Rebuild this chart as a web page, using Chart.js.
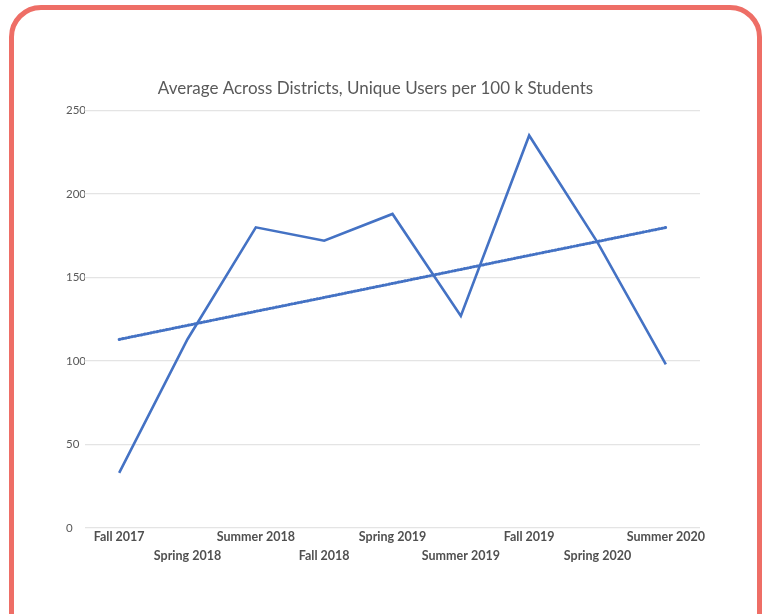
<!DOCTYPE html>
<html>
<head>
<meta charset="utf-8">
<script src="https://cdn.jsdelivr.net/npm/chart.js@4"></script>
<style>
  html, body { margin: 0; padding: 0; background: #ffffff; width: 765px; height: 614px; overflow: hidden; }
  #card { position: absolute; left: 9px; top: 5px; width: 753px; height: 700px; border: 5px solid #EE6E66; border-radius: 32px; box-sizing: border-box; }
  #wrap { position: absolute; left: 0; top: 0; width: 765px; height: 614px; }
</style>
</head>
<body>
<div id="card"></div>
<div id="wrap"><canvas id="c" width="765" height="614"></canvas></div>
<script>
const categories = ['Fall 2017', 'Spring 2018', 'Summer 2018', 'Fall 2018', 'Spring 2019', 'Summer 2019', 'Fall 2019', 'Spring 2020', 'Summer 2020'];
const uniqueUsers = [33, 113, 180, 172, 188, 127, 235, 171, 98];
const trendValues = [112.9, 121.3, 129.7, 138.0, 146.4, 154.8, 163.2, 171.5, 179.9];
const yTicks = [0, 50, 100, 150, 200, 250];
const titleText = 'Average Across Districts, Unique Users per 100 k Students';

const FONT = "Lato, 'Noto Sans', sans-serif";

const shiftTitle = {
  id: 'shiftTitle',
  afterLayout(chart) {
    if (chart.titleBlock) { chart.titleBlock.left -= 15; }
  }
};

new Chart(document.getElementById('c'), {
  type: 'line',
  data: {
    labels: categories,
    datasets: [
      {
        label: 'Unique Users',
        data: uniqueUsers,
        borderColor: '#4472C4',
        borderWidth: 2.6,
        pointRadius: 0,
        tension: 0,
        fill: false
      },
      {
        label: 'Trend',
        data: trendValues,
        borderColor: '#4472C4',
        borderWidth: 3,
        borderDash: [1, 2.2],
        borderCapStyle: 'round',
        pointRadius: 0,
        tension: 0,
        fill: false
      }
    ]
  },
  plugins: [shiftTitle],
  options: {
    responsive: false,
    animation: false,
    devicePixelRatio: 1,
    layout: { padding: { left: 66, right: 65, top: 0, bottom: 30 } },
    plugins: {
      legend: { display: false },
      tooltip: { enabled: false },
      title: {
        display: true,
        text: titleText,
        color: '#595959',
        font: { family: FONT, size: 17, weight: 'normal', lineHeight: 1.2 },
        padding: { top: 78, bottom: 12 }
      }
    },
    scales: {
      x: {
        offset: true,
        grid: { display: false, drawTicks: false },
        border: { display: false },
        ticks: {
          autoSkip: false,
          maxRotation: 0,
          minRotation: 0,
          padding: 0,
          color: '#505050',
          font: { family: FONT, size: 12.5, weight: 'bold', lineHeight: 1.5 },
          callback: function (value, index) {
            const lbl = categories[index];
            return index % 2 === 0 ? [lbl, ''] : ['', lbl];
          }
        },
        afterFit: function (scale) { scale.height = 56; }
      },
      y: {
        min: 0,
        max: 250,
        afterBuildTicks: function (scale) { scale.ticks = yTicks.map(v => ({ value: v })); },
        grid: { color: '#e4e4e4', lineWidth: 1.2, drawTicks: false },
        border: { display: false },
        ticks: {
          crossAlign: 'far',
          padding: 4,
          color: '#595959',
          font: { family: FONT, size: 11.5 }
        },
        afterFit: function (scale) { scale.width = 19; }
      }
    }
  }
});
</script>
</body>
</html>
